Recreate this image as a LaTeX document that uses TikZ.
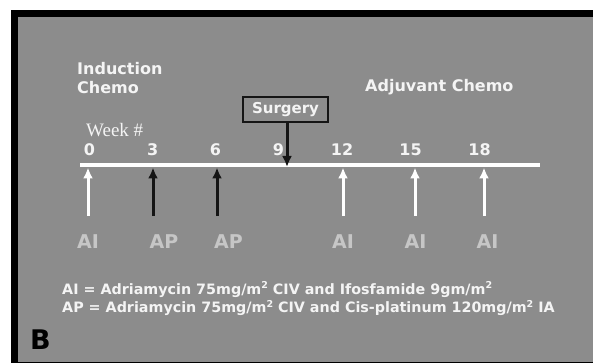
\documentclass[tikz,border=0pt]{standalone}
\usepackage{fontspec}
\setmainfont{DejaVu Sans}
\newfontfamily\weekfont{Liberation Serif}
\usetikzlibrary{arrows.meta}
\definecolor{panel}{HTML}{8C8C8C}
\definecolor{txt}{HTML}{F4F4F4}
\definecolor{lbl}{HTML}{C6C6C6}
\definecolor{dark}{HTML}{151515}
\tikzset{
  head/.style={font=\bfseries\fontsize{16}{19}\selectfont, text=txt, anchor=base west, inner sep=0pt},
  num/.style={font=\bfseries\fontsize{16}{19}\selectfont, text=txt, anchor=base, inner sep=0pt},
  drug/.style={font=\bfseries\fontsize{19}{22}\selectfont, text=lbl, anchor=base, inner sep=0pt},
  legend/.style={font=\bfseries\fontsize{14.3}{17}\selectfont, text=txt, anchor=base west, inner sep=0pt},
  whitearr/.style={draw=white, line width=3pt, -{Latex[length=11pt,width=10pt]}},
  blackarr/.style={draw=dark, line width=3pt, -{Latex[length=11pt,width=10pt]}},
  surgbox/.style={draw=dark, line width=1.2pt, fill=panel, font=\bfseries\fontsize{15}{18}\selectfont, text=txt, minimum width=85pt, minimum height=25pt, inner sep=0pt}
}
\newcommand{\sqr}{\raisebox{0.35em}{\fontsize{9.5}{10}\selectfont 2}}
\begin{document}
\begin{tikzpicture}[x=1pt,y=-1pt]
\useasboundingbox (0,0) rectangle (593,363);
\fill[white] (0,0) rectangle (593,363);
\fill[black] (11,10) rectangle (593,363);
\fill[panel] (18,17) rectangle (593,362);

\node[head] (ind) at (77,75) {Induction};
\node[head] (chemo) at (77,94) {Chemo};
\node[head] (adj) at (365,91.5) {Adjuvant Chemo};
\node[font=\weekfont\fontsize{19}{21}\selectfont, text=txt, anchor=base west, inner sep=0pt] (week) at (86,137) {Week \#};

\node[num] (n0) at (89.5,156) {0};
\node[num] (n3) at (152.7,156) {3};
\node[num] (n6) at (215.5,156) {6};
\node[num] (n9) at (278.5,156) {9};
\node[num] (n12) at (342,156) {12};
\node[num] (n15) at (410.5,156) {15};
\node[num] (n18) at (479.5,156) {18};

\node[surgbox] (surg) at (285.5,109.5) {Surgery};

\coordinate (tl) at (80,165.5);
\coordinate (tr) at (540,165.5);
\draw[white, line width=4pt] (tl) -- (tr);

\coordinate (s) at (287,167);
\draw[blackarr] (surg.south -| s) -- (s);

\foreach \name/\xx in {a0/88,a3/153,a6/217,a12/343,a15/415,a18/484}{
  \coordinate (\name b) at (\xx,216);
  \coordinate (\name t) at (\xx,167.5);
}
\draw[whitearr] (a0b) -- (a0t);
\draw[blackarr] (a3b) -- (a3t);
\draw[blackarr] (a6b) -- (a6t);
\draw[whitearr] (a12b) -- (a12t);
\draw[whitearr] (a15b) -- (a15t);
\draw[whitearr] (a18b) -- (a18t);

\node[drug] (l0) at (88,248) {AI};
\node[drug] (l3) at (164,248) {AP};
\node[drug] (l6) at (228.5,248) {AP};
\node[drug] (l12) at (343,248) {AI};
\node[drug] (l15) at (415.5,248) {AI};
\node[drug] (l18) at (487.5,248) {AI};

\node[legend] (leg1) at (62,294) {AI = Adriamycin 75mg/m\sqr{} CIV and Ifosfamide 9gm/m\sqr};
\node[legend] (leg2) at (62,312.5) {AP = Adriamycin 75mg/m\sqr{} CIV and Cis-platinum 120mg/m\sqr{} IA};

\node[font=\bfseries\fontsize{27}{30}\selectfont, text=black, anchor=base west, inner sep=0pt] (B) at (30,349) {B};
\end{tikzpicture}
\end{document}
